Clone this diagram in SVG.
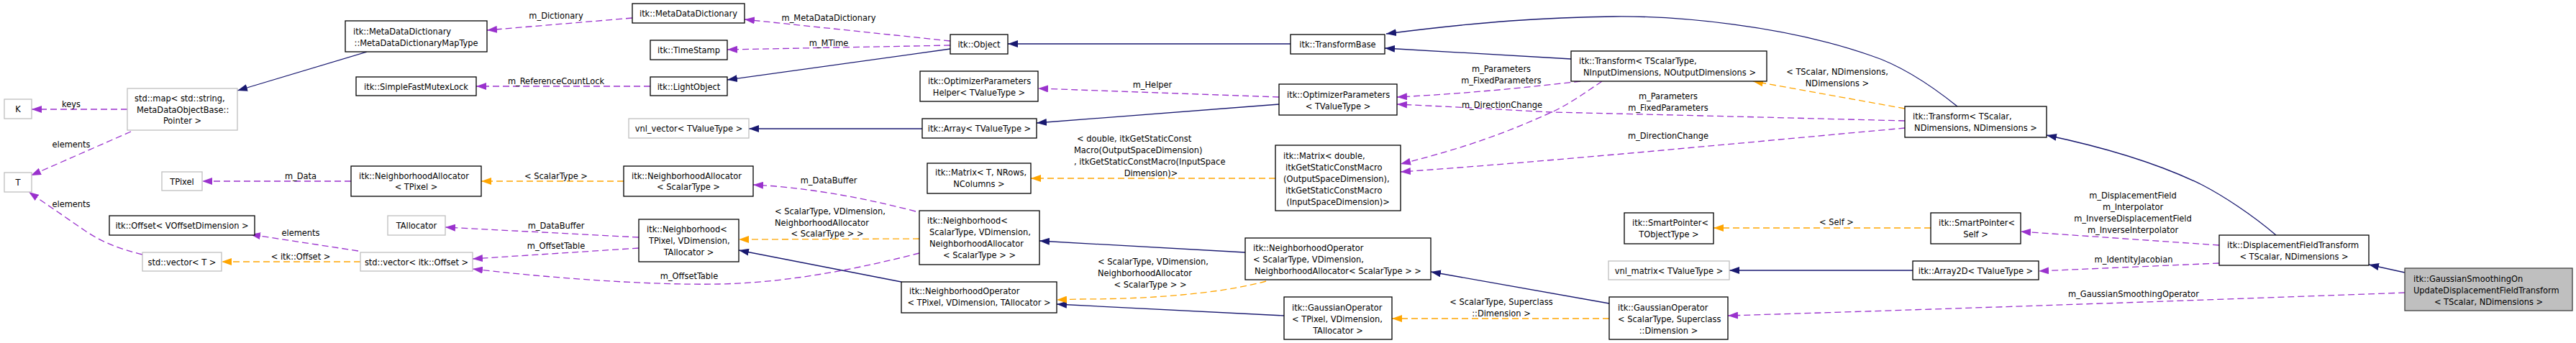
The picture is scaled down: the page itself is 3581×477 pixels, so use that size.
<svg xmlns="http://www.w3.org/2000/svg" width="3581" height="477" viewBox="0 0 3581 477">
<style>
text{font-family:"DejaVu Sans Condensed","Liberation Sans",sans-serif;font-size:12.7px;fill:#000}
.m{text-anchor:middle}
.s{text-anchor:start}
.n rect{fill:#fff;stroke:#000;stroke-width:1.3}
.g rect{fill:#fff;stroke:#bfbfbf;stroke-width:1.3}
.main rect{fill:#bfbfbf;stroke:#404040;stroke-width:1.3}
.e{fill:none;stroke-width:1.3}
.inh{stroke:#191970;marker-end:url(#an)}
.use{stroke:#9a32cd;stroke-dasharray:9,5;marker-end:url(#ap)}
.tpl{stroke:#ffa500;stroke-dasharray:9,5;marker-end:url(#ao)}
</style>
<defs>
<marker id="an" viewBox="0 0 14 10" refX="14" refY="5" markerWidth="14" markerHeight="10" markerUnits="userSpaceOnUse" orient="auto"><path d="M0,0 L14,5 L0,10 z" fill="#191970"/></marker>
<marker id="ap" viewBox="0 0 14 10" refX="14" refY="5" markerWidth="14" markerHeight="10" markerUnits="userSpaceOnUse" orient="auto"><path d="M0,0 L14,5 L0,10 z" fill="#9a32cd"/></marker>
<marker id="ao" viewBox="0 0 14 10" refX="14" refY="5" markerWidth="14" markerHeight="10" markerUnits="userSpaceOnUse" orient="auto"><path d="M0,0 L14,5 L0,10 z" fill="#ffa500"/></marker>
</defs>
<rect width="3581" height="477" fill="#fff"/>
<g id="connectors">
<path class="e inh" d="M510,72 L330,126"/>
<path class="e inh" d="M1321,68 L1011,111"/>
<path class="e inh" d="M1794,61 L1401,61"/>
<path class="e inh" d="M1282,179 L1041,179"/>
<path class="e inh" d="M1778,145 L1441,171"/>
<path class="e inh" d="M1253,392 L1027,348"/>
<path class="e inh" d="M1731,351 L1445,335"/>
<path class="e inh" d="M1785,439 L1469,423"/>
<path class="e inh" d="M2237,422 L1989,378"/>
<path class="e inh" d="M2184,82 L1925,67"/>
<path class="e inh" d="M2721,148 C2680,115 2640,90 2600,77 C2480,35 2330,22 2243,23 C2150,24 2060,30 1927,47"/>
<path class="e inh" d="M2659,376 L2404,376"/>
<path class="e inh" d="M3164,327 C3130,298 3090,272 3061,257 C3010,232 2940,208 2845,188"/>
<path class="e inh" d="M3343,379 L3293,368"/>
<path class="e use" d="M177,152 L44,152"/>
<path class="e use" d="M182,183 L43,244"/>
<path class="e use" d="M198,354 C165,346 140,336 117,320 L40,267"/>
<path class="e use" d="M488,252 L281,252"/>
<path class="e use" d="M498,349 L348,326"/>
<path class="e use" d="M879,25 L677,42"/>
<path class="e use" d="M904,120 L662,120"/>
<path class="e use" d="M1321,57 L1035,27"/>
<path class="e use" d="M1321,63 L1011,69"/>
<path class="e use" d="M1778,135 L1443,123"/>
<path class="e use" d="M1273,294 Q1150,262 1047,257"/>
<path class="e use" d="M1278,352 C1200,372 1100,393 1000,395 C900,397 760,386 657,374"/>
<path class="e use" d="M888,330 L619,316"/>
<path class="e use" d="M888,345 L657,360"/>
<path class="e use" d="M2197,113 C2120,122 2040,130 1942,135"/>
<path class="e use" d="M2648,168 C2450,163 2250,158 2157,156 C2080,152 2010,148 1942,145"/>
<path class="e use" d="M2227,113 C2195,135 2175,148 2157,156 C2100,182 2040,205 1947,228"/>
<path class="e use" d="M2648,178 C2450,196 2150,225 1947,239"/>
<path class="e use" d="M3085,341 L2809,322"/>
<path class="e use" d="M3085,366 L2834,377"/>
<path class="e use" d="M3343,407 C3100,416 2700,430 2402,439"/>
<path class="e tpl" d="M501,364 L308,364"/>
<path class="e tpl" d="M1773,248 L1433,248"/>
<path class="e tpl" d="M867,252 L669,252"/>
<path class="e tpl" d="M1278,332 L1027,333"/>
<path class="e tpl" d="M1760,391 C1710,405 1620,416 1500,416 L1469,417"/>
<path class="e tpl" d="M2237,443 L1935,443"/>
<path class="e tpl" d="M2648,151 L2437,113"/>
<path class="e tpl" d="M2684,317 L2382,317"/>
<g id="edge-labels">
<text class="m" x="99" y="148.5">keys</text>
<text class="m" x="99" y="204.5">elements</text>
<text class="m" x="99" y="287.5">elements</text>
<text class="m" x="418" y="248.5">m_Data</text>
<text class="m" x="418" y="327.5">elements</text>
<text class="m" x="418" y="360.5">&lt; itk::Offset &gt;</text>
<text class="m" x="773" y="25.5">m_Dictionary</text>
<text class="m" x="773" y="116.5">m_ReferenceCountLock</text>
<text class="m" x="773" y="248.5">&lt; ScalarType &gt;</text>
<text class="m" x="773" y="317.5">m_DataBuffer</text>
<text class="m" x="773" y="345.5">m_OffsetTable</text>
<text class="m" x="958" y="387.5">m_OffsetTable</text>
<text class="m" x="1152" y="28.5">m_MetaDataDictionary</text>
<text class="m" x="1152" y="63.5">m_MTime</text>
<text class="m" x="1152" y="254.5">m_DataBuffer</text>
<text class="s" x="1077" y="297.5">&lt; ScalarType, VDimension,</text>
<text class="s" x="1077" y="313.5">NeighborhoodAllocator</text>
<text class="m" x="1150" y="328.5">&lt; ScalarType &gt; &gt;</text>
<text class="s" x="1526" y="367.5">&lt; ScalarType, VDimension,</text>
<text class="s" x="1526" y="383.5">NeighborhoodAllocator</text>
<text class="m" x="1599" y="399.5">&lt; ScalarType &gt; &gt;</text>
<text class="m" x="1602" y="121.5">m_Helper</text>
<text class="s" x="1497" y="196.5">&lt; double, itkGetStaticConst</text>
<text class="s" x="1493" y="212.5">Macro(OutputSpaceDimension)</text>
<text class="s" x="1493" y="228.5">, itkGetStaticConstMacro(InputSpace</text>
<text class="m" x="1600" y="244.5">Dimension)&gt;</text>
<text class="m" x="2087" y="99.5">m_Parameters</text>
<text class="m" x="2087" y="115.5">m_FixedParameters</text>
<text class="m" x="2088" y="149.5">m_DirectionChange</text>
<text class="m" x="2319" y="137.5">m_Parameters</text>
<text class="m" x="2319" y="153.5">m_FixedParameters</text>
<text class="m" x="2319" y="192.5">m_DirectionChange</text>
<text class="m" x="2554" y="103.5">&lt; TScalar, NDimensions,</text>
<text class="m" x="2554" y="119.5">NDimensions &gt;</text>
<text class="m" x="2087" y="423.5">&lt; ScalarType, Superclass</text>
<text class="m" x="2087" y="439.5">::Dimension &gt;</text>
<text class="m" x="2553" y="312.5">&lt; Self &gt;</text>
<text class="m" x="2965" y="275.5">m_DisplacementField</text>
<text class="m" x="2965" y="291.5">m_Interpolator</text>
<text class="m" x="2965" y="307.5">m_InverseDisplacementField</text>
<text class="m" x="2965" y="323.5">m_InverseInterpolator</text>
<text class="m" x="2966" y="364.5">m_IdentityJacobian</text>
<text class="m" x="2966" y="412.5">m_GaussianSmoothingOperator</text>
</g>
</g>
<g id="node-gs" class="main"><rect x="3343" y="373" width="233" height="59"/>
<text class="s" x="3355" y="391.5">itk::GaussianSmoothingOn</text>
<text class="s" x="3355" y="407.5">UpdateDisplacementFieldTransform</text>
<text class="m" x="3459.5" y="423.5">&lt; TScalar, NDimensions &gt;</text></g>
<g id="node-df" class="n"><rect x="3085" y="327" width="208" height="42"/>
<text class="s" x="3096" y="344.5">itk::DisplacementFieldTransform</text>
<text class="m" x="3189" y="360.5">&lt; TScalar, NDimensions &gt;</text></g>
<g id="node-tr2" class="n"><rect x="2648" y="148" width="197" height="43"/>
<text class="s" x="2659" y="165.5">itk::Transform&lt; TScalar,</text>
<text class="m" x="2746.5" y="181.5">NDimensions, NDimensions &gt;</text></g>
<g id="node-sps" class="n"><rect x="2684" y="296" width="125" height="43"/>
<text class="s" x="2695" y="313.5">itk::SmartPointer&lt;</text>
<text class="m" x="2746.5" y="329.5">Self &gt;</text></g>
<g id="node-a2d" class="n"><rect x="2659" y="363" width="175" height="26"/>
<text class="m" x="2746.5" y="380.5">itk::Array2D&lt; TValueType &gt;</text></g>
<g id="node-spt" class="n"><rect x="2258" y="296" width="124" height="43"/>
<text class="s" x="2269" y="313.5">itk::SmartPointer&lt;</text>
<text class="m" x="2320" y="329.5">TObjectType &gt;</text></g>
<g id="node-vnlm" class="g"><rect x="2236" y="363" width="168" height="26"/>
<text class="m" x="2320" y="380.5">vnl_matrix&lt; TValueType &gt;</text></g>
<g id="node-go2" class="n"><rect x="2237" y="413" width="165" height="59"/>
<text class="s" x="2249" y="431.5">itk::GaussianOperator</text>
<text class="s" x="2249" y="447.5">&lt; ScalarType, Superclass</text>
<text class="m" x="2319.5" y="463.5">::Dimension &gt;</text></g>
<g id="node-tr1" class="n"><rect x="2184" y="71" width="272" height="42"/>
<text class="s" x="2195" y="88.5">itk::Transform&lt; TScalarType,</text>
<text class="m" x="2321" y="104.5">NInputDimensions, NOutputDimensions &gt;</text></g>
<g id="node-tb" class="n"><rect x="1794" y="48" width="131" height="27"/>
<text class="m" x="1859.5" y="66">itk::TransformBase</text></g>
<g id="node-op" class="n"><rect x="1778" y="117" width="164" height="43"/>
<text class="s" x="1789" y="135.5">itk::OptimizerParameters</text>
<text class="m" x="1860" y="151.5">&lt; TValueType &gt;</text></g>
<g id="node-md" class="n"><rect x="1773" y="202" width="174" height="91"/>
<text class="s" x="1784" y="220.5">itk::Matrix&lt; double,</text>
<text class="s" x="1787" y="236.5">itkGetStaticConstMacro</text>
<text class="s" x="1784" y="252.5">(OutputSpaceDimension),</text>
<text class="s" x="1787" y="268.5">itkGetStaticConstMacro</text>
<text class="m" x="1860" y="284.5">(InputSpaceDimension)&gt;</text></g>
<g id="node-no2" class="n"><rect x="1731" y="331" width="258" height="58"/>
<text class="s" x="1742" y="348.5">itk::NeighborhoodOperator</text>
<text class="s" x="1742" y="364.5">&lt; ScalarType, VDimension,</text>
<text class="m" x="1860" y="380.5">NeighborhoodAllocator&lt; ScalarType &gt; &gt;</text></g>
<g id="node-go1" class="n"><rect x="1785" y="413" width="150" height="59"/>
<text class="s" x="1796" y="431.5">itk::GaussianOperator</text>
<text class="s" x="1796" y="447.5">&lt; TPixel, VDimension,</text>
<text class="m" x="1860" y="463.5">TAllocator &gt;</text></g>
<g id="node-obj" class="n"><rect x="1321" y="48" width="80" height="27"/>
<text class="m" x="1361" y="66">itk::Object</text></g>
<g id="node-oph" class="n"><rect x="1279" y="99" width="164" height="42"/>
<text class="s" x="1290" y="116.5">itk::OptimizerParameters</text>
<text class="m" x="1361" y="132.5">Helper&lt; TValueType &gt;</text></g>
<g id="node-arr" class="n"><rect x="1282" y="165" width="159" height="27"/>
<text class="m" x="1361.5" y="183">itk::Array&lt; TValueType &gt;</text></g>
<g id="node-mt" class="n"><rect x="1289" y="227" width="144" height="42"/>
<text class="s" x="1300" y="243.5">itk::Matrix&lt; T, NRows,</text>
<text class="m" x="1361" y="259.5">NColumns &gt;</text></g>
<g id="node-nh2" class="n"><rect x="1278" y="293" width="167" height="75"/>
<text class="s" x="1289" y="310.5">itk::Neighborhood&lt;</text>
<text class="s" x="1292" y="326.5">ScalarType, VDimension,</text>
<text class="s" x="1292" y="342.5">NeighborhoodAllocator</text>
<text class="m" x="1361.5" y="358.5">&lt; ScalarType &gt; &gt;</text></g>
<g id="node-no1" class="n"><rect x="1253" y="392" width="216" height="43"/>
<text class="s" x="1264" y="408.5">itk::NeighborhoodOperator</text>
<text class="m" x="1361" y="424.5">&lt; TPixel, VDimension, TAllocator &gt;</text></g>
<g id="node-mdd" class="n"><rect x="879" y="5" width="156" height="27"/>
<text class="m" x="957" y="23">itk::MetaDataDictionary</text></g>
<g id="node-ts" class="n"><rect x="904" y="56" width="107" height="27"/>
<text class="m" x="957.5" y="74">itk::TimeStamp</text></g>
<g id="node-lo" class="n"><rect x="904" y="107" width="107" height="26"/>
<text class="m" x="957.5" y="124.5">itk::LightObject</text></g>
<g id="node-vnlv" class="g"><rect x="874" y="165" width="167" height="27"/>
<text class="m" x="957.5" y="183">vnl_vector&lt; TValueType &gt;</text></g>
<g id="node-na2" class="n"><rect x="867" y="231" width="180" height="42"/>
<text class="s" x="878" y="248.5">itk::NeighborhoodAllocator</text>
<text class="m" x="957" y="263.5">&lt; ScalarType &gt;</text></g>
<g id="node-nh1" class="n"><rect x="888" y="305" width="139" height="59"/>
<text class="s" x="899" y="322.5">itk::Neighborhood&lt;</text>
<text class="s" x="902" y="338.5">TPixel, VDimension,</text>
<text class="m" x="957.5" y="354.5">TAllocator &gt;</text></g>
<g id="node-mdmt" class="n"><rect x="480" y="29" width="197" height="43"/>
<text class="s" x="491" y="47.5">itk::MetaDataDictionary</text>
<text class="m" x="578.5" y="63.5">::MetaDataDictionaryMapType</text></g>
<g id="node-sfml" class="n"><rect x="495" y="107" width="167" height="26"/>
<text class="m" x="578.5" y="124.5">itk::SimpleFastMutexLock</text></g>
<g id="node-na1" class="n"><rect x="488" y="231" width="181" height="42"/>
<text class="s" x="499" y="248.5">itk::NeighborhoodAllocator</text>
<text class="m" x="578.5" y="263.5">&lt; TPixel &gt;</text></g>
<g id="node-tall" class="g"><rect x="539" y="300" width="80" height="27"/>
<text class="m" x="579" y="318">TAllocator</text></g>
<g id="node-svo" class="g"><rect x="501" y="351" width="156" height="26"/>
<text class="m" x="579" y="368.5">std::vector&lt; itk::Offset &gt;</text></g>
<g id="node-map" class="g"><rect x="177" y="123" width="153" height="58"/>
<text class="s" x="187" y="140.5">std::map&lt; std::string,</text>
<text class="s" x="190" y="156.5">MetaDataObjectBase::</text>
<text class="m" x="253.5" y="171.5">Pointer &gt;</text></g>
<g id="node-tpix" class="g"><rect x="225" y="239" width="56" height="26"/>
<text class="m" x="253" y="256.5">TPixel</text></g>
<g id="node-off" class="n"><rect x="152" y="300" width="202" height="27"/>
<text class="m" x="253" y="318">itk::Offset&lt; VOffsetDimension &gt;</text></g>
<g id="node-svt" class="g"><rect x="198" y="351" width="110" height="26"/>
<text class="m" x="253" y="368.5">std::vector&lt; T &gt;</text></g>
<g id="node-k" class="g"><rect x="6" y="138" width="38" height="27"/>
<text class="m" x="25" y="156">K</text></g>
<g id="node-t" class="g"><rect x="6" y="240" width="38" height="27"/>
<text class="m" x="25" y="258">T</text></g>
</svg>
